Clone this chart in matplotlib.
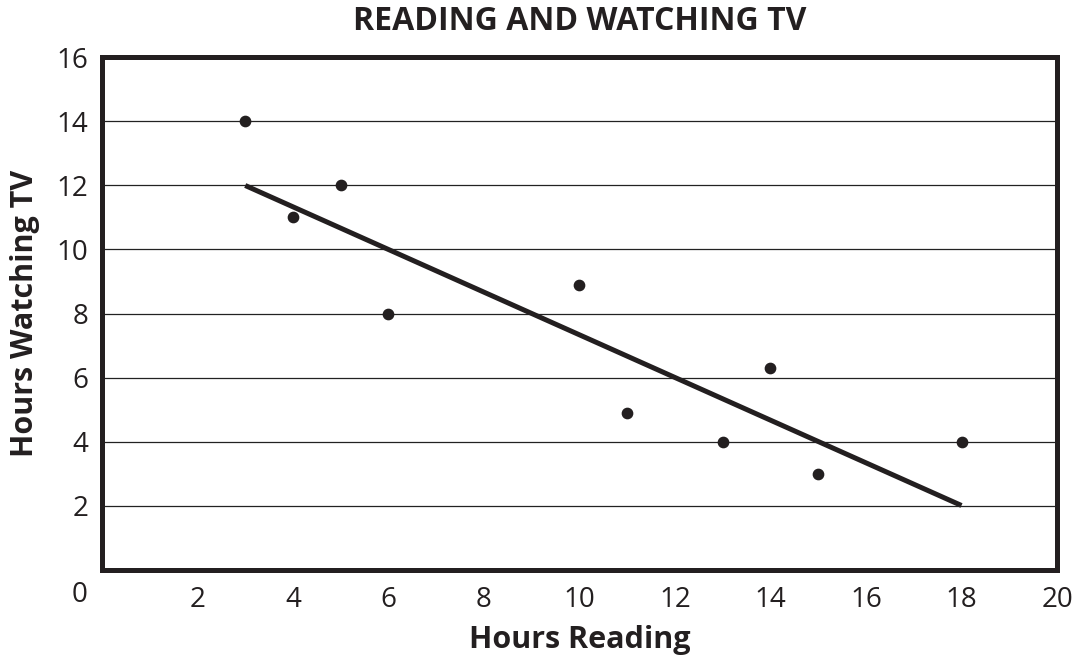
import matplotlib.pyplot as plt

hours_reading = [3, 4, 5, 6, 10, 11, 13, 14, 15, 18]
hours_tv = [14, 11, 12, 8, 8.9, 4.9, 4, 6.3, 3, 4]
fit_x = [3, 18]
fit_y = [12, 2]

x_ticks = [2, 4, 6, 8, 10, 12, 14, 16, 18, 20]
y_ticks = [2, 4, 6, 8, 10, 12, 14, 16]
grid_y = [2, 4, 6, 8, 10, 12, 14]

plt.rcParams['font.family'] = ['Open Sans', 'DejaVu Sans']
ink = '#231f20'

fig = plt.figure(figsize=(10.86, 6.6), dpi=100)
ax = fig.add_axes([0.0939, 0.1371, 0.8794, 0.7758])

for g in grid_y:
    ax.axhline(g, color='#222222', lw=0.9, zorder=1)

ax.plot(fit_x, fit_y, color=ink, lw=3.6, solid_capstyle='butt', zorder=2)
ax.scatter(hours_reading, hours_tv, s=55, color=ink, zorder=3)

ax.set_xlim(0, 20)
ax.set_ylim(0, 16)
ax.set_xticks(x_ticks)
ax.set_yticks(y_ticks)
ax.tick_params(length=0, labelsize=20, colors=ink)
ax.tick_params(axis='y', pad=10)
ax.tick_params(axis='x', pad=12)
for s in ax.spines.values():
    s.set_linewidth(3.6)
    s.set_color(ink)

# lone origin label at the lower-left corner
ax.text(-0.46, -0.022, '0', transform=ax.get_xaxis_transform(), ha='center', va='top',
        fontsize=20, color=ink)

ax.set_title('READING AND WATCHING TV', fontsize=23, fontweight='bold',
             color=ink, pad=20)
ax.set_xlabel('Hours Reading', fontsize=22, fontweight='bold', color=ink, labelpad=8)
ax.set_ylabel('Hours Watching TV', fontsize=22, fontweight='bold', color=ink, labelpad=12)

fig.savefig('out.png', dpi=100)
